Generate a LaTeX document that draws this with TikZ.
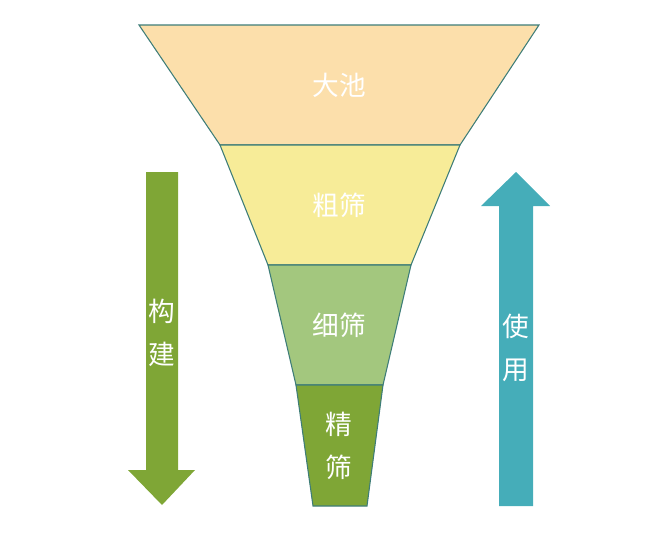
\documentclass[tikz,border=0pt]{standalone}
\usepackage{fontspec}
\newfontfamily\cjk{Noto Sans CJK SC}
\definecolor{poolfill}{HTML}{FCDFAB}
\definecolor{coarsefill}{HTML}{F7EC98}
\definecolor{finefill}{HTML}{A3C77E}
\definecolor{precisefill}{HTML}{7FA636}
\definecolor{funnelline}{HTML}{3E7D78}
\definecolor{buildcol}{HTML}{7FA636}
\definecolor{usecol}{HTML}{45ADB9}

\begin{document}
\begin{tikzpicture}[
    x=0.75pt, y=-0.75pt,
    layer/.style={draw=funnelline, line width=0.8pt},
    label/.style={text=white, font=\cjk\fontsize{20}{24}\selectfont, align=center},
    arrowbody/.style={draw=none}
]
\useasboundingbox (0,0) rectangle (653,557);

% funnel layers
\draw[layer, fill=poolfill] (139,25) -- (539,25) -- (460,145) -- (220,145) -- cycle;
\draw[layer, fill=coarsefill] (220,145) -- (460,145) -- (411,265) -- (268,265) -- cycle;
\draw[layer, fill=finefill] (268,265) -- (411,265) -- (383,385) -- (296,385) -- cycle;
\draw[layer, fill=precisefill] (296,385) -- (383,385) -- (367,506) -- (313,506) -- cycle;

\node[label] (pool) at (339,85) {大池};
\node[label] (coarse) at (339,205) {粗筛};
\node[label] (fine) at (339,325) {细筛};
\node[label, font=\cjk\fontsize{20}{32}\selectfont] (precise) at (339,446) {精\\筛};

% build arrow
\fill[buildcol] (146,172) -- (178,172) -- (178,470) -- (195,470) -- (162,505)
    -- (128,470) -- (146,470) -- cycle;
\node[label, font=\cjk\fontsize{20}{32}\selectfont] (build) at (162,333) {构\\建};

% use arrow
\fill[usecol] (499,506) -- (533,506) -- (533,206) -- (550,206) -- (516,172)
    -- (481,206) -- (499,206) -- cycle;
\node[label, font=\cjk\fontsize{20}{32}\selectfont] (use) at (516,348) {使\\用};
\end{tikzpicture}
\end{document}
